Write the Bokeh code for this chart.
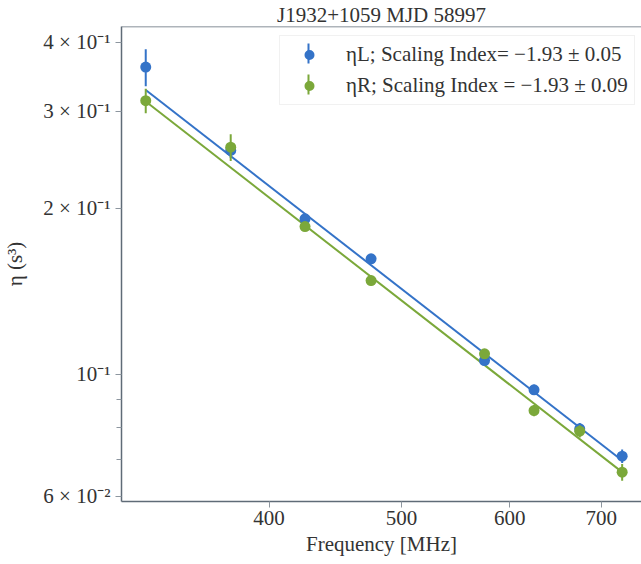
from bokeh.plotting import figure
from bokeh.models import (Range1d, FixedTicker, CustomJSTickFormatter, Legend,
                          LegendItem, Arrow, Span, ColumnDataSource)
from bokeh.embed import file_html
from bokeh.resources import INLINE

# ---------------- data ----------------
freq_mhz = [325, 375, 425, 475, 575, 625, 675, 725]
eta_L = [0.361, 0.2547, 0.1914, 0.1620, 0.1059, 0.0937, 0.0796, 0.0710]
eta_L_err = [0.028, 0.008, 0.003, 0.003, 0.002, 0.002, 0.002, 0.002]
eta_R = [0.3137, 0.2582, 0.1853, 0.1479, 0.1089, 0.0859, 0.0788, 0.0664]
eta_R_err = [0.016, 0.0145, 0.003, 0.003, 0.002, 0.002, 0.002, 0.0023]

fit_ref_freq = 325.0
fit_L_amp = 0.328
fit_R_amp = 0.3125
index_L = -1.93
index_R = -1.93

label_L = "ηL; Scaling Index= −1.93 ± 0.05"
label_R = "ηR; Scaling Index = −1.93 ± 0.09"
title_text = "J1932+1059 MJD 58997"

y_ticks = [0.06, 0.1, 0.2, 0.3, 0.4]
y_tick_labels = ["6 × 10⁻²", "10⁻¹", "2 × 10⁻¹", "3 × 10⁻¹", "4 × 10⁻¹"]
y_minor = [0.07, 0.08, 0.09]
x_ticks = [400, 500, 600, 700]

# ---------------- style ----------------
BLUE = "#3473c8"
GREEN = "#7ba83a"
SPINE = "#5f6b77"
TICK = "#8d969f"
TXT = "#333333"
FONT = "Liberation Serif"
FS = "21px"

p = figure(width=641, height=564, x_axis_type="log", y_axis_type="log",
           x_range=Range1d(312, 749), y_range=Range1d(0.05875, 0.4276),
           output_backend="svg", toolbar_location=None,
           min_border_left=119, min_border_right=0, min_border_top=0,
           min_border_bottom=63)
p.background_fill_color = "white"
p.border_fill_color = "white"
p.outline_line_color = None
p.xgrid.visible = False
p.ygrid.visible = False

# title
p.title.text = title_text
p.title.align = "center"
p.title.offset = 2
p.title.standoff = 0
p.title.text_font = FONT
p.title.text_font_size = FS
p.title.text_font_style = "normal"
p.title.text_color = TXT

# fit lines
fmin, fmax = min(freq_mhz), max(freq_mhz)
fit_x = [fmin, fmax]
fit_L = [fit_L_amp * (f / fit_ref_freq) ** index_L for f in fit_x]
fit_R = [fit_R_amp * (f / fit_ref_freq) ** index_R for f in fit_x]
p.line(fit_x, fit_L, line_color=BLUE, line_width=2)
p.line(fit_x, fit_R, line_color=GREEN, line_width=2)

srcL = ColumnDataSource(dict(x=freq_mhz, y=eta_L,
                             lo=[v - e for v, e in zip(eta_L, eta_L_err)],
                             hi=[v + e for v, e in zip(eta_L, eta_L_err)]))
srcR = ColumnDataSource(dict(x=freq_mhz, y=eta_R,
                             lo=[v - e for v, e in zip(eta_R, eta_R_err)],
                             hi=[v + e for v, e in zip(eta_R, eta_R_err)]))

p.segment("x", "lo", "x", "hi", source=srcL, line_color=BLUE, line_width=2)
rL = p.scatter("x", "y", source=srcL, size=11, color=BLUE, line_width=0)
p.segment("x", "lo", "x", "hi", source=srcR, line_color=GREEN, line_width=2)
rR = p.scatter("x", "y", source=srcR, size=11, color=GREEN, line_width=0)

# axes
for ax in (p.xaxis[0], p.yaxis[0]):
    ax.axis_line_color = SPINE
    ax.axis_line_width = 1.5
    ax.major_tick_line_color = TICK
    ax.minor_tick_line_color = TICK
    ax.major_tick_line_width = 1
    ax.minor_tick_line_width = 1
    ax.major_tick_out = 6
    ax.major_tick_in = 0
    ax.minor_tick_out = 5
    ax.minor_tick_in = 0
    ax.major_label_text_font = FONT
    ax.major_label_text_font_size = FS
    ax.major_label_text_color = TXT
    ax.axis_label_text_font = FONT
    ax.axis_label_text_font_size = FS
    ax.axis_label_text_color = TXT
    ax.axis_label_text_font_style = "normal"

p.xaxis.ticker = FixedTicker(ticks=x_ticks, minor_ticks=[])
p.xaxis.formatter = CustomJSTickFormatter(code="return String(Math.round(tick));")
p.xaxis.axis_label = "Frequency [MHz]"
p.xaxis.major_label_standoff = 3
p.xaxis.axis_label_standoff = 4

p.yaxis.ticker = FixedTicker(ticks=y_ticks, minor_ticks=y_minor)
p.yaxis.formatter = CustomJSTickFormatter(
    args=dict(vals=y_ticks, labs=y_tick_labels),
    code="const i = vals.findIndex(v => Math.abs(v - tick) < 1e-9); return i >= 0 ? labs[i] : '';")
p.yaxis.axis_label = "η (s³)"
p.yaxis.major_label_standoff = 5
p.yaxis.axis_label_standoff = 13

# top spine
p.add_layout(Span(location=0.4276, dimension="width", line_color=SPINE, line_width=1.5))

# error-bar strokes of the legend keys (drawn beneath the transparent legend box)
for yc, col in ((448, BLUE), (417, GREEN)):
    p.add_layout(Arrow(end=None, x_start=187, x_end=187, y_start=yc - 10, y_end=yc + 10,
                       start_units="screen", end_units="screen",
                       line_color=col, line_width=2))

# legend
legend = Legend(items=[LegendItem(label=label_L, renderers=[rL]),
                       LegendItem(label=label_R, renderers=[rR])],
                location=(158, 396), padding=6, spacing=6,
                glyph_width=46, glyph_height=25, label_height=25,
                label_standoff=14, label_text_font=FONT, label_text_font_size=FS,
                label_text_color=TXT, border_line_color="#e3e3e3",
                border_line_width=1, background_fill_alpha=0.0)
p.add_layout(legend)

open("out.html", "w").write(file_html(p, INLINE))
